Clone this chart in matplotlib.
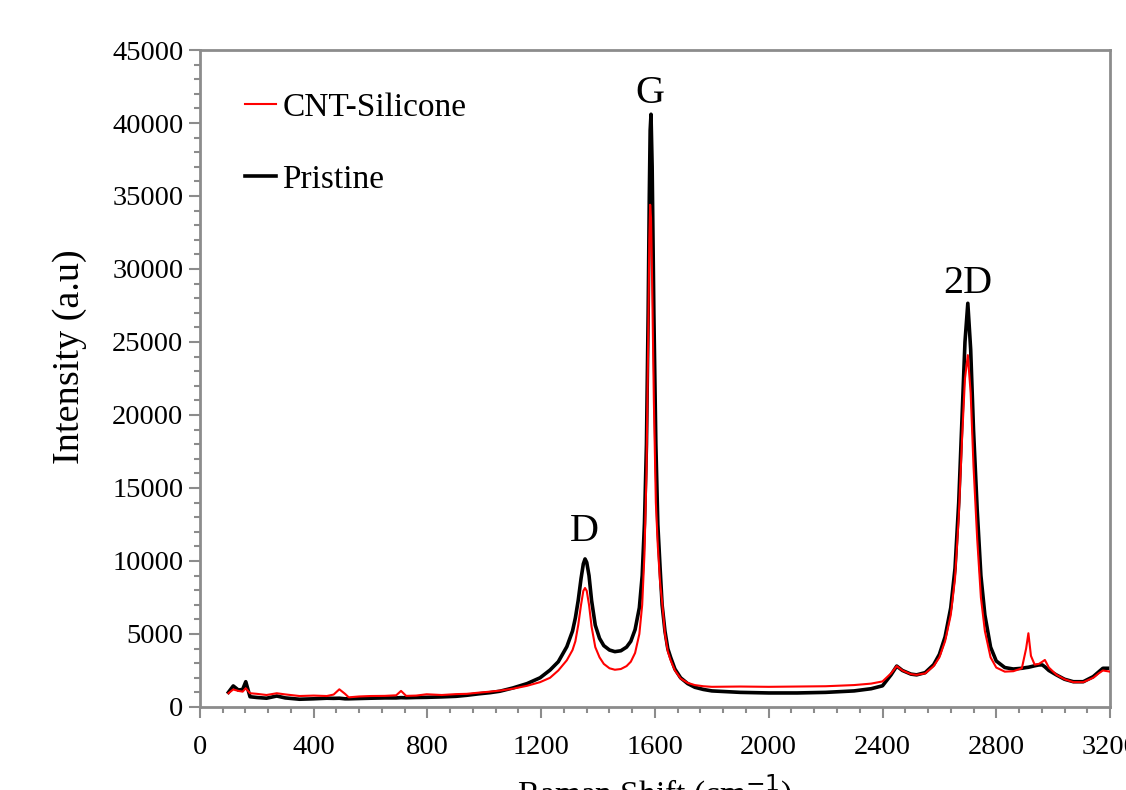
import numpy as np
import matplotlib
matplotlib.use("Agg")
import matplotlib.pyplot as plt
from matplotlib.ticker import MultipleLocator

plt.rcParams['font.family'] = ['Liberation Serif', 'DejaVu Serif']

# Raman shift (cm-1), shared by both spectra
shift = [100, 117, 135, 150, 161, 176, 200, 234, 270, 300, 350, 400, 446, 470, 490,
         510, 523, 560, 600, 650, 690, 707, 725, 760, 797, 850, 900, 938, 980, 1020,
         1055, 1100, 1150, 1196, 1231, 1260, 1290, 1310, 1320, 1330, 1340, 1348, 1354,
         1360, 1368, 1377, 1390, 1405, 1420, 1440, 1459, 1480, 1500, 1515, 1530, 1545,
         1555, 1563, 1570, 1576, 1580, 1583, 1586, 1590, 1596, 1603, 1610, 1618, 1625,
         1635, 1645, 1655, 1670, 1690, 1715, 1740, 1770, 1800, 1900, 2000, 2100, 2200,
         2300, 2360, 2400, 2430, 2450, 2470, 2500, 2520, 2550, 2580, 2600, 2620, 2640,
         2655, 2668, 2680, 2690, 2700, 2710, 2720, 2733, 2746, 2760, 2780, 2800, 2830,
         2860, 2890, 2905, 2913, 2922, 2935, 2950, 2962, 2971, 2985, 3012, 3040, 3071,
         3106, 3141, 3160, 3175, 3200]

pristine = [1000, 1440, 1160, 1200, 1730, 700, 650, 600, 750, 620, 530, 560, 600, 590, 600,
            560, 560, 580, 600, 620, 620, 640, 630, 650, 660, 690, 730, 800, 900, 980,
            1080, 1300, 1600, 2000, 2530, 3100, 4130, 5200, 6100, 7300, 8800, 9800, 10140,
            9900, 9000, 7300, 5600, 4700, 4200, 3900, 3790, 3850, 4100, 4500, 5300, 6800,
            9000, 12600, 18000, 27000, 35000, 39500, 40600, 37000, 27000, 18000, 12500, 9500, 7000,
            5200, 4000, 3400, 2600, 2000, 1600, 1350, 1200, 1100, 1000, 960, 960, 1000,
            1100, 1250, 1450, 2200, 2800, 2500, 2250, 2200, 2350, 2900, 3600, 4800, 6800,
            9500, 14000, 20000, 25000, 27650, 24500, 19000, 13500, 9000, 6300, 4100, 3150, 2700,
            2600, 2650, 2700, 2720, 2760, 2820, 2880, 2880, 2750, 2500, 2190, 1900, 1730,
            1730, 2080, 2400, 2650, 2650]

cnt_silicone = [940, 1200, 1100, 1050, 1280, 940, 900, 820, 940, 860, 750, 780, 750, 850, 1210,
                900, 660, 720, 750, 760, 800, 1100, 760, 780, 870, 820, 880, 900, 980, 1050,
                1120, 1250, 1450, 1700, 2000, 2500, 3200, 3900, 4500, 5600, 7000, 7950, 8150,
                7950, 7000, 5500, 4100, 3400, 2950, 2650, 2550, 2600, 2800, 3100, 3700, 5000,
                7000, 10500, 16000, 25000, 32000, 34400, 33500, 29000, 21000, 14000, 11000, 8500, 7200,
                5000, 3800, 3200, 2500, 1950, 1650, 1500, 1420, 1380, 1400, 1380, 1400, 1420,
                1500, 1600, 1750, 2300, 2800, 2500, 2250, 2200, 2300, 2800, 3400, 4500, 6300,
                8800, 13000, 18500, 22500, 24100, 21500, 16500, 11500, 7500, 5200, 3400, 2700, 2420,
                2450, 2650, 4000, 5050, 3500, 2900, 2950, 3100, 3220, 2700, 2200, 1900, 1700,
                1700, 2000, 2300, 2500, 2420]

peak_names = ['D', 'G', '2D']
peak_pos = [1350, 1583, 2700]
peak_label_y = [12000, 42000, 29000]

fig = plt.figure(figsize=(11.26, 7.9), dpi=100)
ax = fig.add_axes([0.1776, 0.1051, 0.8082, 0.8316])

ax.plot(shift, pristine, color='black', lw=2.6, label='Pristine', zorder=2)
ax.plot(shift, cnt_silicone, color='#ff0000', lw=1.5, label='CNT-Silicone', zorder=3)

for name, px, py in zip(peak_names, peak_pos, peak_label_y):
    ax.text(px, py, name, ha='center', va='center', fontsize=29)

ax.set_xlim(0, 3200)
ax.set_ylim(0, 45000)
ax.xaxis.set_major_locator(MultipleLocator(400))
ax.xaxis.set_minor_locator(MultipleLocator(80))
ax.yaxis.set_major_locator(MultipleLocator(5000))
ax.yaxis.set_minor_locator(MultipleLocator(1000))

for s in ax.spines.values():
    s.set_color('#8c8c8c')
    s.set_linewidth(2)
ax.tick_params(which='both', direction='out', color='#8c8c8c', width=1.5, labelsize=20.5)
ax.tick_params(which='major', length=8)
ax.tick_params(which='minor', length=4.5)
ax.tick_params(axis='x', which='major', pad=12)
ax.tick_params(axis='y', which='major', pad=4)

ax.set_ylabel('Intensity (a.u)', fontsize=27.5)
ax.yaxis.set_label_coords(-0.124, 0.533)
ax.set_xlabel('Raman Shift (cm$^{-1}$)', fontsize=24, labelpad=9)

h, l = ax.get_legend_handles_labels()
ax.legend(h[::-1], l[::-1], loc='upper left', bbox_to_anchor=(0.0495, 0.936),
          frameon=False, fontsize=24, handlelength=0.92, handletextpad=0.2,
          labelspacing=1.26, borderaxespad=0, borderpad=0)

fig.savefig('out.png', dpi=100)
